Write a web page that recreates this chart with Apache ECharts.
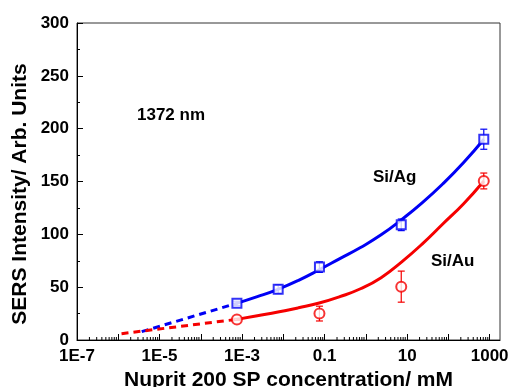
<!DOCTYPE html>
<html>
<head>
<meta charset="utf-8">
<script src="https://cdn.jsdelivr.net/npm/echarts@6/dist/echarts.min.js"></script>
<style>html,body{margin:0;padding:0;background:#fff;}#c{width:510px;height:387px;}</style>
</head>
<body>
<div id="c"></div>
<script>
// ---- data ----
const agX = [7.5e-4, 7.5e-3, 0.075, 7.2, 720];
const agY = [34.7, 48, 69, 109, 190];
const agErr = [2, 4, 5, 5.5, 9.5];

const auX = [7.5e-4, 0.075, 7.2, 720];
const auY = [19.5, 25, 50.5, 150.5];
const auErr = [1, 7, 14.7, 7.5];

// fitted curves
const agFitX = [7.41e-4, 2.34e-3, 7.41e-3, 0.0234, 0.0741, 0.234, 0.741, 2.34, 7.41, 23.4, 74.1, 234, 724];
const agFitY = [34.7, 41, 48, 56.5, 66.5, 77, 87.5, 99.5, 114, 130, 148, 168, 190];

const auFitX = [7.41e-4, 2.34e-3, 7.41e-3, 0.0234, 0.0741, 0.234, 0.741, 2.34, 7.41, 23.4, 74.1, 234, 724];
const auFitY = [19.5, 23, 26.5, 30.5, 35, 41, 48.5, 59, 74, 91, 110, 129, 150.5];

// dashed extrapolations
const agDashX = [3.7e-6, 7.41e-4];
const agDashY = [7.9, 34.7];
const auDashX = [1.2e-6, 7.41e-4];
const auDashY = [6, 19.5];

const xTickExp = [-7, -5, -3, -1, 1, 3];
const xTickText = ['1E-7', '1E-5', '1E-3', '0.1', '10', '1000'];

const seriesNames = ['Si/Ag', 'Si/Au'];
const noteText = '1372 nm';
const xName = 'Nuprit 200 SP concentration/ mM';
const yName = 'SERS Intensity/ Arb. Units';

// ---- build ----
const FONT = 'Arial, "Liberation Sans", sans-serif';
const BLUE = '#0000f5';
const RED = '#f50000';
const X_MIN = 1e-7, X_MAX = 1780;

const zip = (xs, ys) => xs.map((x, i) => [x, ys[i]]);
const errData = (xs, ys, es) => xs.map((x, i) => [x, ys[i] - es[i], ys[i] + es[i]]);

const minorTicks = [];
for (let e = -7; e <= 3; e++) {
  for (let m = 2; m <= 9; m++) {
    const v = m * Math.pow(10, e);
    if (v < X_MAX) minorTicks.push([v, 0]);
  }
}

function errRender(color) {
  return function (params, api) {
    const x = api.value(0);
    const lo = api.coord([x, api.value(1)]);
    const hi = api.coord([x, api.value(2)]);
    const w = 3.5;
    const st = { stroke: color, lineWidth: 1.2 };
    return {
      type: 'group',
      children: [
        { type: 'line', shape: { x1: lo[0], y1: lo[1], x2: hi[0], y2: hi[1] }, style: st },
        { type: 'line', shape: { x1: lo[0] - w, y1: lo[1], x2: lo[0] + w, y2: lo[1] }, style: st },
        { type: 'line', shape: { x1: hi[0] - w, y1: hi[1], x2: hi[0] + w, y2: hi[1] }, style: st }
      ]
    };
  };
}

const chart = echarts.init(document.getElementById('c'), null, { renderer: 'canvas' });
chart.setOption({
  animation: false,
  backgroundColor: '#fff',
  textStyle: { fontFamily: FONT },
  grid: { left: 77, right: 10, top: 23, bottom: 47, show: true, borderColor: '#333', borderWidth: 1,
          containLabel: false, outerBoundsMode: 'none' },
  xAxis: {
    type: 'log', logBase: 10, min: X_MIN, max: X_MAX, interval: 1,
    name: xName, nameLocation: 'middle', nameGap: 27,
    nameTextStyle: { fontFamily: FONT, fontWeight: 'bold', fontSize: 21, color: '#000' },
    axisLine: { lineStyle: { color: '#000', width: 1 } },
    axisTick: { inside: true, length: 6, lineStyle: { color: '#000' } },
    splitLine: { show: false },
    axisLabel: {
      margin: 8, fontFamily: FONT, fontWeight: 'bold', fontSize: 17, color: '#000',
      showMaxLabel: false, hideOverlap: false, interval: 0,
      formatter: function (v) {
        const e = Math.round(Math.log10(v));
        const i = xTickExp.indexOf(e);
        return i >= 0 ? xTickText[i] : '';
      }
    }
  },
  yAxis: {
    type: 'value', min: 0, max: 300, interval: 50,
    axisLine: { show: true, lineStyle: { color: '#000', width: 1 } },
    axisTick: { show: true, inside: true, length: 6, lineStyle: { color: '#000' } },
    minorTick: { show: true, splitNumber: 2, length: 3, lineStyle: { color: '#000' } },
    splitLine: { show: false },
    axisLabel: { margin: 8, fontFamily: FONT, fontWeight: 'bold', fontSize: 17, color: '#000' }
  },
  graphic: [
    { type: 'text', x: 20, y: 194, rotation: Math.PI / 2,
      style: { text: yName, font: 'bold 21px ' + FONT, fill: '#000', textAlign: 'center', textVerticalAlign: 'middle' } },
    { type: 'text', left: 137, top: 107, style: { text: noteText, font: 'bold 17px ' + FONT, fill: '#000' } },
    { type: 'text', left: 373, top: 169, style: { text: seriesNames[0], font: 'bold 17px ' + FONT, fill: '#000' } },
    { type: 'text', left: 431, top: 253, style: { text: seriesNames[1], font: 'bold 17px ' + FONT, fill: '#000' } }
  ],
  series: [
    {
      type: 'custom', silent: true, data: minorTicks, z: 1,
      renderItem: function (params, api) {
        const p = api.coord([api.value(0), 0]);
        return { type: 'line', shape: { x1: p[0], y1: p[1], x2: p[0], y2: p[1] - 3 }, style: { stroke: '#000', lineWidth: 1 } };
      }
    },
    { name: seriesNames[0] + ' fit', type: 'line', data: zip(agFitX, agFitY), smooth: 0.5, showSymbol: false, lineStyle: { color: BLUE, width: 3 }, z: 2 },
    { name: seriesNames[1] + ' fit', type: 'line', data: zip(auFitX, auFitY), smooth: 0.5, showSymbol: false, lineStyle: { color: RED, width: 3 }, z: 2 },
    { name: seriesNames[0] + ' ext', type: 'line', data: zip(agDashX, agDashY), smooth: false, showSymbol: false, lineStyle: { color: BLUE, width: 3, type: [7, 5] }, z: 2 },
    { name: seriesNames[1] + ' ext', type: 'line', data: zip(auDashX, auDashY), smooth: false, showSymbol: false, lineStyle: { color: RED, width: 3, type: [7, 5] }, z: 2 },
    { type: 'custom', data: errData(agX, agY, agErr), renderItem: errRender(BLUE), z: 3 },
    { type: 'custom', data: errData(auX, auY, auErr), renderItem: errRender(RED), z: 3 },
    { name: seriesNames[0], type: 'scatter', data: zip(agX, agY), symbol: 'rect', symbolSize: 9,
      itemStyle: { color: '#fff', borderColor: BLUE, borderWidth: 2 }, z: 4 },
    { name: seriesNames[1], type: 'scatter', data: zip(auX, auY), symbol: 'circle', symbolSize: 10,
      itemStyle: { color: '#fff', borderColor: RED, borderWidth: 2 }, z: 4 }
  ]
});
</script>
</body>
</html>
